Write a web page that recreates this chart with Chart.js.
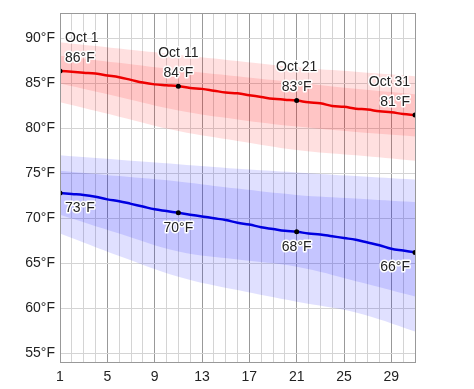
<!DOCTYPE html>
<html>
<head>
<meta charset="utf-8">
<script src="https://cdn.jsdelivr.net/npm/chart.js@4"></script>
<style>
  html, body { margin: 0; padding: 0; background: #fff; }
  canvas { display: block; }
</style>
</head>
<body>
<canvas id="chart" width="474" height="389"></canvas>
<script>
// days of October
const days = [1, 2, 3, 4, 5, 6, 7, 8, 9, 10, 11, 12, 13, 14, 15, 16, 17, 18, 19, 20, 21, 22, 23, 24, 25, 26, 27, 28, 29, 30, 31]

// average daily high / low (°F)
const highMean = [86.4, 86.3, 86.2, 86.1, 85.9, 85.7, 85.4, 85.1, 84.9, 84.8, 84.7, 84.5, 84.4, 84.2, 84.0, 83.9,
  83.7, 83.5, 83.3, 83.2, 83.1, 82.9, 82.8, 82.5, 82.4, 82.2, 82.1, 81.9, 81.8, 81.6, 81.5]
const lowMean = [72.8, 72.7, 72.6, 72.4, 72.1, 71.9, 71.6, 71.3, 71.0, 70.8, 70.6, 70.4, 70.2, 70.0, 69.8, 69.5,
  69.3, 69.0, 68.8, 68.6, 68.5, 68.3, 68.2, 68.0, 67.8, 67.6, 67.3, 67.0, 66.6, 66.4, 66.2]

// percentile bands, read at these days
const bandDays = [1, 6, 11, 16, 21, 26, 31]
const highP90 = [89.6, 88.9, 88.2, 87.5, 86.8, 86.3, 85.8]
const highP75 = [88.1, 87.3, 86.5, 85.8, 85.1, 84.4, 83.8]
const highP25 = [85.0, 83.5, 82.0, 81.0, 80.2, 79.6, 79.1]
const highP10 = [82.9, 81.3, 79.7, 78.6, 77.6, 77.0, 76.4]
const lowP90 = [77.0, 76.5, 76.0, 75.5, 75.1, 74.7, 74.3]
const lowP75 = [75.3, 74.7, 74.1, 73.3, 72.6, 72.2, 71.8]
const lowP25 = [70.4, 68.3, 66.3, 65.4, 64.6, 63.0, 61.3]
const lowP10 = [68.3, 65.8, 63.5, 62.0, 60.7, 59.5, 57.4]

// labelled points
const markDays = [1, 11, 21, 31]
const markNames = ["Oct 1", "Oct 11", "Oct 21", "Oct 31"]
const markHigh = [86, 84, 83, 81]
const markLow = [73, 70, 68, 66]

const yTicks = [55, 60, 65, 70, 75, 80, 85, 90]

const FONT = "'Liberation Sans', Arial, sans-serif"

const series = (xs, ys) => xs.map((x, i) => ({ x: x, y: ys[i] }))

const band = (xs, ys, color, target) => ({
  data: series(xs, ys),
  borderWidth: 0,
  pointRadius: 0,
  tension: 0.4,
  backgroundColor: color,
  fill: target === null ? false : { target: target },
})

const meanLine = (ys, color) => ({
  data: series(days, ys),
  borderColor: color,
  borderWidth: 2.5,
  tension: 0.4,
  fill: false,
  pointRadius: (ctx) => markDays.includes(ctx.raw.x) ? 2.5 : 0,
  pointBackgroundColor: "#000",
  pointBorderWidth: 0,
})

const pinkFill = "rgba(255, 0, 0, 0.12)"
const blueFill = "rgba(0, 0, 255, 0.12)"

function markLabels() {
  return {
    id: "markLabels",
    afterDatasetsDraw: (chart) => {
      const { ctx, scales } = chart
      ctx.save()
      ctx.font = "14px " + FONT
      ctx.textBaseline = "middle"
      ctx.lineJoin = "round"
      ctx.strokeStyle = "#fff"
      ctx.lineWidth = 3
      ctx.fillStyle = "#222"

      const put = (text, x, y) => {
        ctx.strokeText(text, x, y)
        ctx.fillText(text, x, y)
      }

      markDays.forEach((day, i) => {
        let px = scales.x.getPixelForValue(day)
        if (i === 0) {
          ctx.textAlign = "left"
          px += 5
        } else if (i === markDays.length - 1) {
          ctx.textAlign = "right"
          px -= 5
        } else {
          ctx.textAlign = "center"
        }
        const hy = scales.y.getPixelForValue(highMean[day - 1])
        const ly = scales.y.getPixelForValue(lowMean[day - 1])
        put(markNames[i], px, hy - 33)
        put(markHigh[i] + "°F", px, hy - 13)
        put(markLow[i] + "°F", px, ly + 15)
      })
      ctx.restore()
    },
  }
}

function frame() {
  return {
    id: "frame",
    afterDraw: (chart) => {
      const { ctx, chartArea } = chart
      ctx.save()
      ctx.strokeStyle = "#999"
      ctx.lineWidth = 1
      ctx.strokeRect(Math.round(chartArea.left) + 0.5, Math.round(chartArea.top) + 0.5,
        Math.round(chartArea.right - chartArea.left), Math.round(chartArea.bottom - chartArea.top))
      ctx.restore()
    },
  }
}

new Chart(document.getElementById("chart"), {
  type: "line",
  data: {
    datasets: [
      meanLine(highMean, "#ee0000"),
      meanLine(lowMean, "#0000e0"),
      band(bandDays, highP75, pinkFill, 3),
      band(bandDays, highP25, pinkFill, null),
      band(bandDays, highP90, pinkFill, 5),
      band(bandDays, highP10, pinkFill, null),
      band(bandDays, lowP75, blueFill, 7),
      band(bandDays, lowP25, blueFill, null),
      band(bandDays, lowP90, blueFill, 9),
      band(bandDays, lowP10, blueFill, null),
    ],
  },
  options: {
    responsive: false,
    animation: false,
    layout: { padding: { top: 7, right: 59, left: 0, bottom: 0 } },
    scales: {
      x: {
        type: "linear",
        min: 1,
        max: 31,
        afterFit: (scale) => { scale.height = 27 },
        border: { display: false },
        grid: {
          drawTicks: false,
          color: (ctx) => ((ctx.tick.value - 1) % 4 === 0 ? "#999" : "#d4d4d4"),
        },
        ticks: {
          stepSize: 1,
          autoSkip: false,
          maxRotation: 0,
          padding: 7,
          color: "#222",
          font: { family: FONT, size: 14 },
          callback: (value) => ((value - 1) % 4 === 0 && value < 31 ? String(value) : ""),
        },
      },
      y: {
        min: 54.0,
        max: 92.8,
        afterFit: (scale) => { scale.width = 60 },
        afterBuildTicks: (scale) => { scale.ticks = yTicks.map((v) => ({ value: v })) },
        border: { display: false },
        grid: { drawTicks: false, color: "#d4d4d4" },
        ticks: {
          padding: 5,
          color: "#222",
          font: { family: FONT, size: 14 },
          callback: (value) => value + "°F",
        },
      },
    },
    plugins: {
      legend: { display: false },
      tooltip: { enabled: false },
    },
  },
  plugins: [markLabels(), frame()],
})
</script>
</body>
</html>
